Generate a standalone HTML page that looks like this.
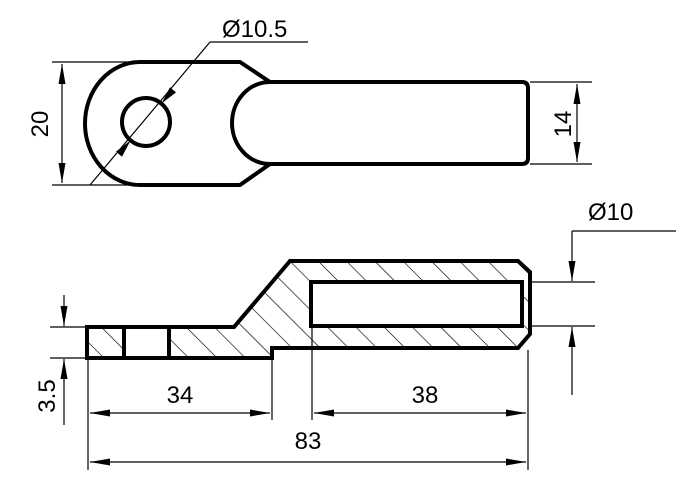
<!DOCTYPE html>
<html><head><style>body{margin:0;background:#fff}svg{display:block}</style></head><body>
<svg width="700" height="500" viewBox="0 0 700 500" xmlns="http://www.w3.org/2000/svg" font-family="Liberation Sans, sans-serif" font-size="24">
<defs>
<pattern id="h" width="20" height="20" patternUnits="userSpaceOnUse" patternTransform="rotate(-45)">
<line x1="0" y1="0" x2="0" y2="20" stroke="#000" stroke-width="1.3"/>
</pattern>
<marker id="b" viewBox="0 0 20 10" refX="20" refY="5" markerWidth="20" markerHeight="10" markerUnits="userSpaceOnUse" orient="auto-start-reverse"><path d="M0,1.5 L20,5 L0,8.5 z" fill="#000"/></marker>
</defs>
<g fill="none" stroke="#000" stroke-width="4" stroke-linejoin="round">
<path d="M140,62 L240,62 L270,82 L522,82 Q528,82 528,88 L528,158 Q528,164 522,164 L270,164 L240,185 L140,185 A55,61.5 0 0 1 140,62 Z"/>
<path d="M270,82 A38,41 0 0 0 270,164"/>
<circle cx="146" cy="122" r="24"/>
</g>
<g stroke="#000" stroke-width="1.2" fill="none">
<line x1="90" y1="185" x2="210" y2="42"/><line x1="210" y1="42" x2="308" y2="42"/>
<line x1="52" y1="62" x2="140" y2="62"/><line x1="52" y1="185" x2="140" y2="185"/>
<line x1="62" y1="64" x2="62" y2="183" marker-start="url(#b)" marker-end="url(#b)"/>
<line x1="530" y1="82" x2="592" y2="82"/><line x1="530" y1="164" x2="592" y2="164"/>
<line x1="577" y1="84" x2="577" y2="162" marker-start="url(#b)" marker-end="url(#b)"/>
</g>
<path d="M161.4,103.6 L176,92.4 L170,87.2 z M130.6,140.4 L122,156.8 L116,151.6 z" fill="#000"/>
<text x="222" y="37">Ø10.5</text>
<text transform="translate(48,124) rotate(-90)" text-anchor="middle">20</text>
<text transform="translate(571,124) rotate(-90)" text-anchor="middle">14</text>
<path fill="url(#h)" fill-rule="evenodd" d="M87,327 L234,327 L290,261 L518,261 L530,272 L530,334 L518,348 L272,348 L272,358 L87,358 Z M123,327 L170,327 L170,358 L123,358 Z M311,282 L522,282 L522,326 L311,326 Z"/>
<g fill="none" stroke="#000" stroke-width="4" stroke-linejoin="miter">
<path d="M87,327 L234,327 L290,261 L518,261 L530,272 L530,334 L518,348 L272,348 L272,358 L87,358 Z"/>
<line x1="124" y1="327" x2="124" y2="358"/><line x1="169" y1="327" x2="169" y2="358"/>
<rect x="311" y="282" width="211" height="44"/>
</g>
<g stroke="#000" stroke-width="1.2" fill="none">
<line x1="50" y1="327" x2="87" y2="327"/><line x1="50" y1="358" x2="87" y2="358"/>
<line x1="64" y1="295" x2="64" y2="326" marker-end="url(#b)"/>
<line x1="64" y1="425" x2="64" y2="359" marker-end="url(#b)"/>
<line x1="88" y1="360" x2="88" y2="470"/><line x1="272" y1="360" x2="272" y2="420"/>
<line x1="312" y1="328" x2="312" y2="420"/><line x1="528" y1="350" x2="528" y2="470"/>
<line x1="90" y1="413" x2="270" y2="413" marker-start="url(#b)" marker-end="url(#b)"/>
<line x1="314" y1="413" x2="526" y2="413" marker-start="url(#b)" marker-end="url(#b)"/>
<line x1="90" y1="462" x2="526" y2="462" marker-start="url(#b)" marker-end="url(#b)"/>
<line x1="530" y1="282" x2="595" y2="282"/><line x1="530" y1="326" x2="595" y2="326"/>
<line x1="572" y1="231" x2="676" y2="231"/>
<line x1="572" y1="231" x2="572" y2="281" marker-end="url(#b)"/>
<line x1="572" y1="395" x2="572" y2="327" marker-end="url(#b)"/>
</g>
<text x="588" y="220">Ø10</text>
<text x="180" y="403" text-anchor="middle">34</text>
<text x="425" y="403" text-anchor="middle">38</text>
<text x="308" y="449" text-anchor="middle">83</text>
<text transform="translate(55,396) rotate(-90)" text-anchor="middle">3.5</text>
</svg>
</body></html>
